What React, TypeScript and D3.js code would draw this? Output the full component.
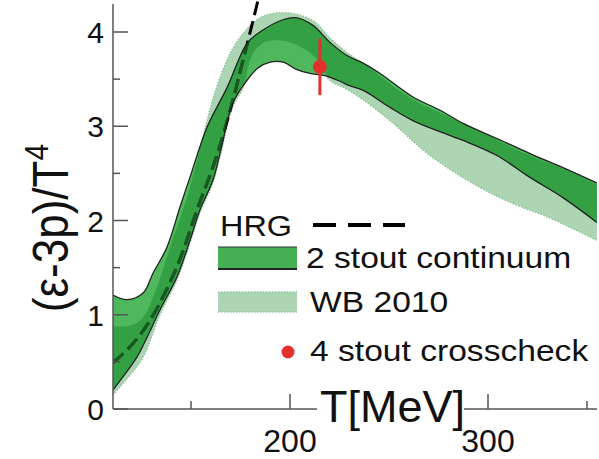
import React from "react";
import * as d3 from "d3";

const W = 599;
const H = 459;

// [T in MeV, (e-3p)/T^4]
const stoutUpper: [number, number][] = [
  [110.6, 1.21], [117.7, 1.16], [125.8, 1.23], [130.8, 1.44], [137.9, 1.72],
  [144.4, 2.14], [149.5, 2.46], [158.1, 2.99], [168.2, 3.41], [178.3, 3.88],
  [184.8, 4.0], [196.5, 4.13], [203.5, 4.15], [211.6, 4.07], [220.2, 3.89],
  [228.8, 3.75], [236.9, 3.67], [245.5, 3.56], [262.1, 3.31], [275.8, 3.17],
  [287.4, 3.03], [304.5, 2.87], [321.2, 2.71], [337.9, 2.56], [355, 2.4],
];
const stoutLower: [number, number][] = [
  [110.6, 0.2], [115.6, 0.34], [122.7, 0.55], [127.8, 0.76], [134.3, 1.05],
  [142.9, 1.4], [149.5, 1.79], [154.5, 2.11], [161.1, 2.43], [165.1, 2.75],
  [171.2, 3.25], [178, 3.48], [184, 3.62], [190, 3.68], [196.5, 3.68],
  [203.5, 3.6], [210, 3.56], [217, 3.54], [225, 3.48], [230, 3.43],
  [237, 3.38], [250.5, 3.2], [262, 3.06], [276, 2.94], [287.4, 2.85],
  [304.5, 2.69], [321, 2.46], [338, 2.24], [355, 1.98],
];
const wbUpper: [number, number][] = [
  [110.6, 0.88], [118, 0.88], [125, 0.95], [132, 1.25], [140, 1.75],
  [148, 2.25], [154, 2.72], [158, 3.05], [163, 3.42], [171, 3.82],
  [180, 4.07], [188, 4.18], [200, 4.2], [211.6, 4.12], [220, 3.94],
  [229, 3.78], [240, 3.62], [260, 3.31], [280, 3.1], [300, 2.9],
  [320, 2.7], [340, 2.53], [355, 2.38],
];
const wbLower: [number, number][] = [
  [110.6, 0.15], [118, 0.33], [125.8, 0.55], [134.3, 1.0], [142.9, 1.37],
  [149.5, 1.76], [154.5, 2.08], [161.1, 2.4], [165.1, 2.72], [171, 3.2],
  [176.5, 3.42], [181, 3.76], [187, 3.89], [195, 3.91], [201.5, 3.88],
  [210, 3.78], [215, 3.67], [220, 3.49], [228, 3.4], [237, 3.28],
  [250.5, 3.06], [270.7, 2.69], [296, 2.35], [312.6, 2.18], [329.8, 2.04],
  [355, 1.79],
];
const hrg: [number, number][] = [
  [110.6, 0.49], [119.2, 0.66], [129.3, 0.94], [142.9, 1.51], [153, 2.11],
  [163.1, 2.69], [171.2, 3.28], [174.7, 3.57], [183.3, 4.29], [185, 4.45],
];
const crossT = 215.1;
const crossV = 3.63;
const crossErr = 0.3;

const xMajor = [200, 300];
const xMinor = [150, 250, 350];
const yMajor = [0, 1, 2, 3, 4];
const yMinor = [0.5, 1.5, 2.5, 3.5];

const FONT = "'Liberation Sans', Arial, Helvetica, sans-serif";

export default function App() {
  const x = d3.scaleLinear().domain([200, 300]).range([290, 488]);
  const y = d3.scaleLinear().domain([0, 4]).range([409, 32]);
  const left = 113;
  const right = 597;
  const bottom = y(0);
  const top = 4;

  const line = d3
    .line<[number, number]>()
    .x((d) => x(d[0]))
    .y((d) => y(d[1]))
    .curve(d3.curveCatmullRom.alpha(0.5));

  const band = (up: [number, number][], lo: [number, number][]) =>
    line(up) + "L" + (line([...lo].reverse()) as string).slice(1) + "Z";

  const stoutPath = band(stoutUpper, stoutLower);
  const wbPath = band(wbUpper, wbLower);

  return (
    <svg
      width={W}
      height={H}
      style={{ position: "absolute", left: 0, top: 0, background: "#fff" }}
      fontFamily={FONT}
    >
      <defs>
        <clipPath id="plot">
          <rect x={left} y={0} width={right - left} height={bottom - 0.5} />
        </clipPath>
        <clipPath id="stout">
          <path d={stoutPath} />
        </clipPath>
      </defs>

      <g clipPath="url(#plot)">
        {/* WB 2010 */}
        <path d={wbPath} fill="#acd5b3" />
        <path d={line(wbUpper) as string} fill="none" stroke="#8cc497" strokeWidth={1.5} strokeDasharray="1.5,1.5" />
        <path d={line(wbLower) as string} fill="none" stroke="#8cc497" strokeWidth={1.5} strokeDasharray="1.5,1.5" />

        {/* 2 stout continuum */}
        <path d={stoutPath} fill="#4fb85c" />
        <path d={wbPath} fill="#33a143" clipPath="url(#stout)" />

        {/* HRG */}
        <path d={line(hrg) as string} fill="none" stroke="#000" strokeWidth={3} strokeDasharray="14,6" />
        <g clipPath="url(#stout)">
          <path d={line(hrg) as string} fill="none" stroke="#1e6e2a" strokeWidth={3.2} strokeDasharray="14,6" opacity={0.8} />
        </g>

        <path d={line(stoutUpper) as string} fill="none" stroke="#222" strokeWidth={1.3} />
        <path d={line(stoutLower) as string} fill="none" stroke="#222" strokeWidth={1.3} />
      </g>

      {/* crosscheck point */}
      <line x1={x(crossT)} x2={x(crossT)} y1={y(crossV + crossErr)} y2={y(crossV - crossErr)} stroke="#e2302c" strokeWidth={3} />
      <circle cx={x(crossT)} cy={y(crossV)} r={7} fill="#e2302c" />

      {/* axes */}
      <line x1={left} x2={left} y1={top} y2={bottom} stroke="#555" strokeWidth={1.5} />
      <line x1={left} x2={right} y1={bottom} y2={bottom} stroke="#555" strokeWidth={1.5} />
      {yMajor.map((v) => (
        <g key={"ym" + v}>
          <line x1={left} x2={left + 15} y1={y(v)} y2={y(v)} stroke="#555" strokeWidth={1.5} />
          <text x={104} y={y(v) + 11} fontSize={30} textAnchor="end" fill="#111">
            {v}
          </text>
        </g>
      ))}
      {yMinor.map((v) => (
        <line key={"yn" + v} x1={left} x2={left + 7} y1={y(v)} y2={y(v)} stroke="#555" strokeWidth={1.5} />
      ))}
      {xMajor.map((t) => (
        <g key={"xm" + t}>
          <line x1={x(t)} x2={x(t)} y1={bottom} y2={bottom - 15} stroke="#555" strokeWidth={1.5} />
          <text x={x(t)} y={452} fontSize={32} textAnchor="middle" fill="#111">
            {t}
          </text>
        </g>
      ))}
      {xMinor.map((t) => (
        <line key={"xn" + t} x1={x(t)} x2={x(t)} y1={bottom} y2={bottom - 8} stroke="#555" strokeWidth={1.5} />
      ))}

      {/* x title with white background */}
      <rect x={317} y={380} width={147} height={52} fill="#fff" />
      <text x={320} y={422} fontSize={45} fill="#111">
        T[MeV]
      </text>

      {/* y title */}
      <text transform="translate(68,228) rotate(-90) scale(1,1.12)" fontSize={44} textAnchor="middle" fill="#111">
        (ε-3p)/T
        <tspan fontSize={30} dy={-18}>
          4
        </tspan>
      </text>

      {/* legend */}
      <g fill="#111" fontSize={30}>
        <text transform="translate(220,236) scale(1.08,1)">HRG</text>
        <line x1={313} x2={405} y1={225} y2={225} stroke="#000" strokeWidth={4} strokeDasharray="23,12" />

        <rect x={218} y={247} width={79} height={22} fill="#45b053" />
        <line x1={218} x2={297} y1={247} y2={247} stroke="#333" strokeWidth={1} />
        <line x1={218} x2={297} y1={269} y2={269} stroke="#222" strokeWidth={1.8} />
        <text transform="translate(306,268) scale(1.12,1)">2 stout continuum</text>

        <rect x={218} y={292} width={79} height={20} fill="#acd5b3" />
        <line x1={218} x2={297} y1={292} y2={292} stroke="#8cc497" strokeWidth={1.5} strokeDasharray="1.5,1.5" />
        <line x1={218} x2={297} y1={312} y2={312} stroke="#8cc497" strokeWidth={1.5} strokeDasharray="1.5,1.5" />
        <text transform="translate(310,312) scale(1.12,1)">WB 2010</text>

        <circle cx={288} cy={352} r={6.5} fill="#e2302c" />
        <text transform="translate(310,361) scale(1.12,1)">4 stout crosscheck</text>
      </g>
    </svg>
  );
}
